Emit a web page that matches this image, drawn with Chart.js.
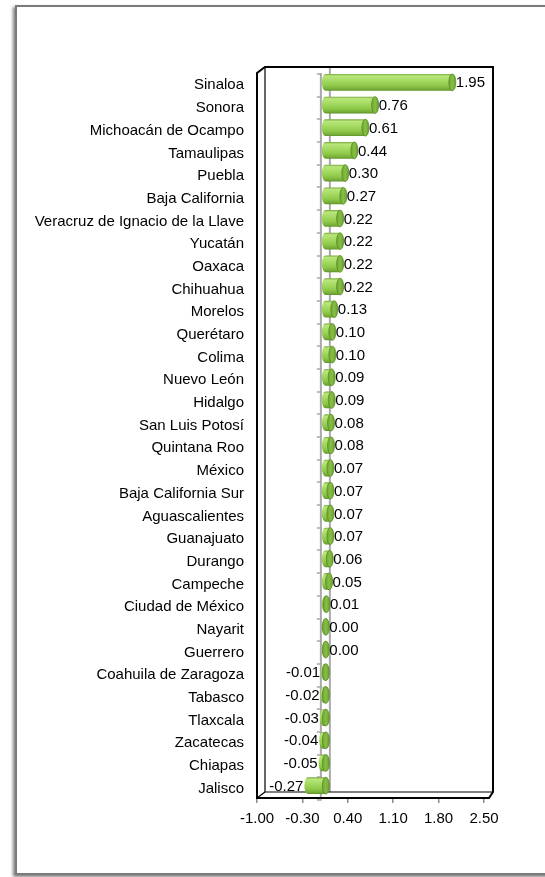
<!DOCTYPE html>
<html>
<head>
<meta charset="utf-8">
<script src="https://cdn.jsdelivr.net/npm/chart.js@4.4.0/dist/chart.umd.min.js"></script>
<style>
    html, body { margin: 0; padding: 0; background: #fff; overflow: hidden; }
    #frame {
        position: absolute; left: 15px; top: 5px; width: 600px; height: 866px;
        border: 2px solid #7a7a7a;
        box-shadow: -2px 2px 3px rgba(0, 0, 0, 0.5);
        background: #fff;
    }
    #chart { position: absolute; left: 0; top: 0; }
</style>
</head>
<body>
<div id="frame"></div>
<canvas id="chart" width="545" height="877"></canvas>
<script>
// States, top to bottom
const regions = [
    "Sinaloa", "Sonora", "Michoacán de Ocampo", "Tamaulipas", "Puebla", "Baja California",
    "Veracruz de Ignacio de la Llave", "Yucatán", "Oaxaca", "Chihuahua", "Morelos",
    "Querétaro", "Colima", "Nuevo León", "Hidalgo", "San Luis Potosí", "Quintana Roo",
    "México", "Baja California Sur", "Aguascalientes", "Guanajuato", "Durango", "Campeche",
    "Ciudad de México", "Nayarit", "Guerrero", "Coahuila de Zaragoza", "Tabasco",
    "Tlaxcala", "Zacatecas", "Chiapas", "Jalisco"
];

const variation = [
    1.95, 0.76, 0.61, 0.44, 0.30, 0.27,
    0.22, 0.22, 0.22, 0.22, 0.13,
    0.10, 0.10, 0.09, 0.09, 0.08, 0.08,
    0.07, 0.07, 0.07, 0.07, 0.06, 0.05,
    0.01, 0.00, 0.00, -0.01, -0.02,
    -0.03, -0.04, -0.05, -0.27
];

const tickValues = [-1.00, -0.30, 0.40, 1.10, 1.80, 2.50];

const FONT = { family: "'Liberation Sans', Arial, sans-serif", size: 15 };
const DEPTH = 4;      // how far the cylinder sticks out past its value
const CAP_RX = 3.5;   // horizontal radius of the cylinder end

// back wall / floor / side wall of the 3d box, plus the zero plane
const boxPlugin = {
    id: 'box3d',
    beforeDatasetsDraw(chart) {
        const { ctx, chartArea: a, scales } = chart;
        const dx = 8, dy = 6;
        const fl = a.left, fb = a.bottom + 1, ft = a.top + 2;
        const br = a.right + 9, bt = a.top - 4;
        const x0 = scales.x.getPixelForValue(0);

        ctx.save();
        // zero plane
        ctx.strokeStyle = '#a9a9a9';
        ctx.lineWidth = 2;
        ctx.beginPath();
        ctx.moveTo(x0 + dx, bt);
        ctx.lineTo(x0 + dx, fb - dy);
        ctx.stroke();
        ctx.beginPath();
        ctx.moveTo(x0 - 1, ft);
        ctx.lineTo(x0 - 1, fb);
        ctx.stroke();
        // category tick marks on the zero line
        ctx.lineWidth = 1.5;
        const step = (a.bottom - a.top) / regions.length;
        for (let i = 0; i <= regions.length; i++) {
            const y = Math.round(a.top + i * step + 3);
            ctx.beginPath();
            ctx.moveTo(x0 - 5, y);
            ctx.lineTo(x0, y);
            ctx.stroke();
        }

        ctx.strokeStyle = '#000';
        ctx.lineWidth = 1.2;
        // inner edges
        ctx.beginPath();
        ctx.moveTo(fl + dx, bt);
        ctx.lineTo(fl + dx, fb - dy);
        ctx.lineTo(br, fb - dy);
        ctx.moveTo(fl + dx, fb - dy);
        ctx.lineTo(fl, fb);
        ctx.stroke();
        // outline
        ctx.lineWidth = 2;
        ctx.beginPath();
        ctx.moveTo(fl, fb);
        ctx.lineTo(fl, ft);
        ctx.lineTo(fl + dx, bt);
        ctx.lineTo(br, bt);
        ctx.lineTo(br, fb - dy);
        ctx.lineTo(br - 4, fb);
        ctx.closePath();
        ctx.stroke();
        ctx.restore();
    }
};

// shaded green cylinders with value labels
const cylinderPlugin = {
    id: 'cylinders',
    afterDatasetsDraw(chart) {
        const { ctx } = chart;
        const meta = chart.getDatasetMeta(0);
        ctx.save();
        ctx.font = FONT.size + 'px ' + FONT.family;
        ctx.textBaseline = 'middle';
        ctx.fillStyle = '#000';
        meta.data.forEach((bar, i) => {
            const { x, y, base, height } = bar.getProps(['x', 'y', 'base', 'height'], true);
            const v = variation[i];
            const left = Math.min(x, base);
            const right = Math.max(x, base) + DEPTH;
            const top = y - height / 2, bottom = y + height / 2;

            const g = ctx.createLinearGradient(0, top, 0, bottom);
            g.addColorStop(0, '#78a83a');
            g.addColorStop(0.12, '#b9e67c');
            g.addColorStop(0.35, '#a8dd66');
            g.addColorStop(0.7, '#8fc94a');
            g.addColorStop(0.92, '#73ab35');
            g.addColorStop(1, '#5d8d27');

            // body
            ctx.fillStyle = g;
            ctx.beginPath();
            ctx.ellipse(left + CAP_RX, y, CAP_RX, height / 2, 0, Math.PI / 2, Math.PI * 1.5);
            ctx.lineTo(right, top);
            ctx.lineTo(right, bottom);
            ctx.closePath();
            ctx.fill();

            // end cap
            const cg = ctx.createLinearGradient(right - CAP_RX, 0, right + CAP_RX, 0);
            cg.addColorStop(0, '#6fa532');
            cg.addColorStop(0.5, '#86bf45');
            cg.addColorStop(1, '#6a9e2f');
            ctx.fillStyle = cg;
            ctx.strokeStyle = '#5a8a25';
            ctx.lineWidth = 0.8;
            ctx.beginPath();
            ctx.ellipse(right, y, CAP_RX, height / 2, 0, 0, Math.PI * 2);
            ctx.fill();
            ctx.stroke();

            // label
            ctx.fillStyle = '#000';
            if (v < 0) {
                ctx.textAlign = 'right';
                ctx.fillText(v.toFixed(2), left - 1, y + 1);
            } else {
                ctx.textAlign = 'left';
                ctx.fillText(v.toFixed(2), right + CAP_RX, y + 1);
            }
        });
        ctx.restore();
    }
};

new Chart(document.getElementById('chart'), {
    type: 'bar',
    data: {
        labels: regions,
        datasets: [{
            data: variation,
            backgroundColor: 'rgba(0,0,0,0)',
            borderWidth: 0,
            barPercentage: 0.95,
            categoryPercentage: 0.78
        }]
    },
    options: {
        indexAxis: 'y',
        responsive: false,
        devicePixelRatio: 1,
        animation: false,
        events: [],
        layout: { padding: { top: 71, right: 61, bottom: 40, left: 0 } },
        plugins: {
            legend: { display: false },
            tooltip: { enabled: false }
        },
        scales: {
            x: {
                type: 'linear',
                min: -1,
                max: 2.5,
                afterFit(scale) { scale.height = 40; },
                afterBuildTicks(scale) {
                    scale.ticks = tickValues.map(v => ({ value: v }));
                },
                grid: {
                    drawOnChartArea: false,
                    drawTicks: true,
                    tickLength: 6,
                    color: '#8c8c8c',
                    lineWidth: 1.5
                },
                border: { display: false },
                ticks: {
                    color: '#000',
                    font: FONT,
                    padding: 7,
                    maxRotation: 0,
                    autoSkip: false,
                    callback: v => Number(v).toFixed(2)
                }
            },
            y: {
                afterFit(scale) { scale.width = 257; },
                grid: { display: false, drawTicks: false },
                border: { display: false },
                ticks: {
                    color: '#000',
                    font: FONT,
                    padding: 13,
                    labelOffset: 3,
                    autoSkip: false
                }
            }
        }
    },
    plugins: [boxPlugin, cylinderPlugin]
});
</script>
</body>
</html>
